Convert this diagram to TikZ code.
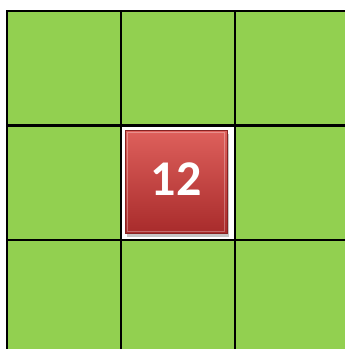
\documentclass[tikz,border=0pt]{standalone}
\usepackage{fontspec}
\setmainfont{Carlito}
\usepackage{tikz}
\usetikzlibrary{shadows}
\usepackage{xcolor}

\definecolor{grassgreen}{HTML}{92D050}
\definecolor{tilered}{HTML}{D8443F}
\definecolor{tiledark}{HTML}{A82B2B}

\begin{document}
\begin{tikzpicture}[
        x=1pt, y=-1pt,
        cell/.style={rectangle, draw=black, line width=2pt, fill=grassgreen, minimum size=114pt, inner sep=0pt},
        tile/.style={rectangle, top color=tilered!85!white, bottom color=tiledark, draw=tiledark!80!black, line width=0.6pt,
                     minimum width=102pt, minimum height=103pt, inner sep=0pt, text=white,
                     font=\fontsize{50}{50}\selectfont\bfseries,
                     drop shadow={shadow xshift=2pt, shadow yshift=-3pt, fill=black!45}}
    ]
        \useasboundingbox (0,0) rectangle (345,349);
        \clip (0,0) rectangle (345,349);

        % ================= GRID =================
        \node[cell] (c11) at (64, 68) {};
        \node[cell] (c12) at (178, 68) {};
        \node[cell] (c13) at (292, 68) {};
        \node[cell] (c21) at (64, 183) {};
        \node[cell, fill=white] (c22) at (178, 183) {};
        \node[cell] (c23) at (292, 183) {};
        \node[cell] (c31) at (64, 297) {};
        \node[cell] (c32) at (178, 297) {};
        \node[cell] (c33) at (292, 297) {};

        % ================= TILE =================
        \node[tile] (tile) at (176, 182) {\raisebox{6pt}{12}};
        \draw[white, opacity=0.3, line width=1.2pt] ([shift={(2.5pt,-2.5pt)}]tile.north west) rectangle ([shift={(-2.5pt,2.5pt)}]tile.south east);

    \end{tikzpicture}
\end{document}
